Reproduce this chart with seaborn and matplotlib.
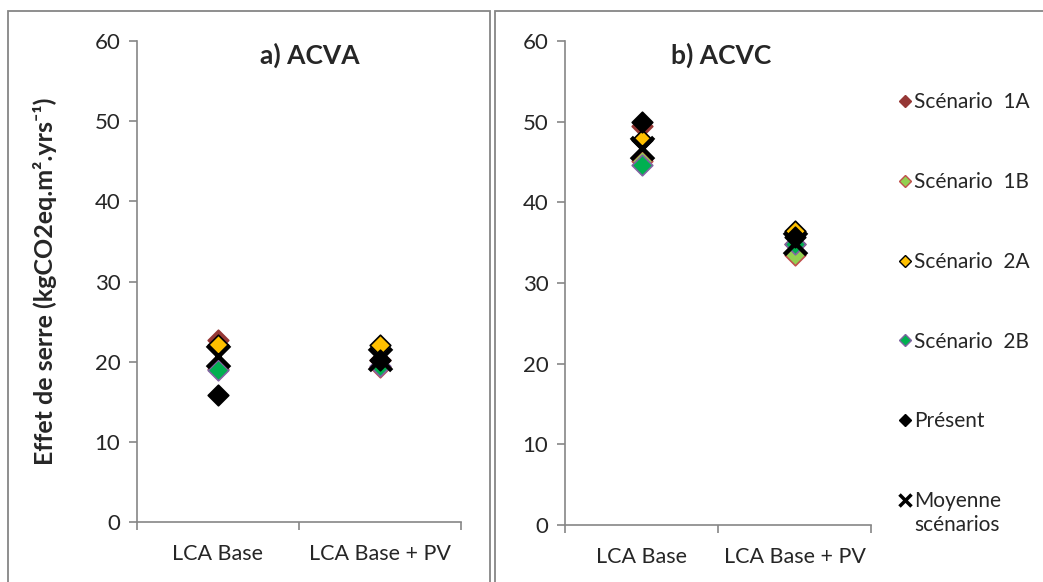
import matplotlib
matplotlib.use("Agg")
import matplotlib.pyplot as plt
import pandas as pd
import seaborn as sns
from matplotlib.lines import Line2D
from matplotlib.patches import Rectangle

sns.set_theme(style="white")
plt.rcParams['font.family'] = ['Lato', 'DejaVu Sans']

## Data ##

categories = ["LCA Base", "LCA Base + PV"]
series = ["Scénario  1A", "Scénario  1B", "Scénario  2A", "Scénario  2B",
          "Présent", "Moyenne scénarios"]

# a) ACVA
acva_1a = [22.7, 20.2]
acva_1b = [19.1, 19.3]
acva_2a = [22.1, 22.1]
acva_2b = [19.0, 19.5]
acva_present = [15.9, 20.2]
acva_mean = [20.7, 20.3]

# b) ACVC
acvc_1a = [49.5, 34.8]
acvc_1b = [45.1, 33.5]
acvc_2a = [47.7, 36.5]
acvc_2b = [44.6, 34.8]
acvc_present = [50.0, 35.7]
acvc_mean = [46.7, 34.9]

yticks = [0, 10, 20, 30, 40, 50, 60]

## Styles ##
styles = {
    "Scénario  1A": dict(marker="D", color="#953735", edgecolor="#953735", s=110, linewidth=1.2),
    "Scénario  1B": dict(marker="D", color="#92D050", edgecolor="#C0504D", s=110, linewidth=1.2),
    "Scénario  2A": dict(marker="D", color="#FFC000", edgecolor="black", s=110, linewidth=1.2),
    "Scénario  2B": dict(marker="D", color="#00B050", edgecolor="#8064A2", s=110, linewidth=1.2),
    "Présent": dict(marker="D", color="black", edgecolor="black", s=110, linewidth=1.2),
    "Moyenne scénarios": dict(marker="x", color="black", s=260, linewidth=3.2),
}

def make_df(vals):
    rows = []
    for name, v in zip(series, vals):
        for c, y in zip(categories, v):
            rows.append({"cat": c, "val": y, "serie": name})
    return pd.DataFrame(rows)

df_a = make_df([acva_1a, acva_1b, acva_2a, acva_2b, acva_present, acva_mean])
df_b = make_df([acvc_1a, acvc_1b, acvc_2a, acvc_2b, acvc_present, acvc_mean])

W, H = 1043, 582
fig = plt.figure(figsize=(W / 100, H / 100), dpi=100)
ax1 = fig.add_axes([137 / W, 1 - 522 / H, (461 - 137) / W, (522 - 41) / H])
ax2 = fig.add_axes([565 / W, 1 - 525 / H, (871 - 565) / W, (525 - 41) / H])

grey = "#868686"

for ax, df, title, tx in [(ax1, df_a, "a) ACVA", 0.534), (ax2, df_b, "b) ACVC", 0.51)]:
    for i, name in enumerate(series):
        sub = df[df["serie"] == name].copy()
        sub["x"] = sub["cat"].map({c: k for k, c in enumerate(categories)})
        sns.scatterplot(data=sub, x="x", y="val", ax=ax, legend=False,
                        zorder=3 + i, clip_on=False, **styles[name])
    ax.set_xlim(-0.5, 1.5)
    ax.set_ylim(0, 60)
    ax.set_yticks(yticks)
    ax.set_xticks([0, 1])
    ax.set_xticklabels(categories)
    ax.set_xticks([-0.5, 0.5, 1.5], minor=True)
    ax.tick_params(axis="x", which="major", length=0, pad=16, labelsize=15.5)
    ax.tick_params(axis="x", which="minor", length=6, width=1.2, color=grey, direction="out", bottom=True)
    ax.tick_params(axis="y", length=6, width=1.2, color=grey, direction="out", left=True, labelsize=16, pad=6)
    for s in ["top", "right"]:
        ax.spines[s].set_visible(False)
    for s in ["left", "bottom"]:
        ax.spines[s].set_color(grey)
        ax.spines[s].set_linewidth(1.2)
    ax.set_xlabel("")
    ax.set_ylabel("")
    ax.set_title(title, fontsize=19, fontweight="bold", x=tx, y=0.935)

ax1.set_ylabel("Effet de serre (kgCO2eq.m².yrs⁻¹)", fontsize=18, fontweight="bold", labelpad=27)

# panel frames
fig.add_artist(Rectangle((8 / W, -0.05), (490 - 8) / W, 1.05 - 11 / H, transform=fig.transFigure,
                         fill=False, edgecolor=grey, linewidth=1.3))
fig.add_artist(Rectangle((495 / W, -0.05), 0.6, 1.05 - 11 / H, transform=fig.transFigure,
                         fill=False, edgecolor=grey, linewidth=1.3))

# legend
handles = []
for name in series:
    st = styles[name]
    if st["marker"] == "x":
        handles.append(Line2D([], [], linestyle="", marker="x", color="black",
                              markersize=9, markeredgewidth=2.5))
    else:
        handles.append(Line2D([], [], linestyle="", marker="D", markerfacecolor=st["color"],
                              markeredgecolor=st["edgecolor"], markersize=6, markeredgewidth=1))
labels = [n.replace("Moyenne scénarios", "Moyenne") for n in series]
leg = fig.legend(handles, labels, loc="upper left", bbox_to_anchor=(890 / W, 1 - 84 / H),
                 frameon=False, fontsize=15, handlelength=0.6, handletextpad=0.15,
                 labelspacing=2.87, borderaxespad=0)

# second line of the last legend entry
fig.canvas.draw()
bb = leg.get_texts()[-1].get_window_extent()
fig.text(bb.x0 / W, (bb.y0 - 4) / H, "scénarios", fontsize=15, ha="left", va="top")

fig.savefig("out.png", dpi=100)
